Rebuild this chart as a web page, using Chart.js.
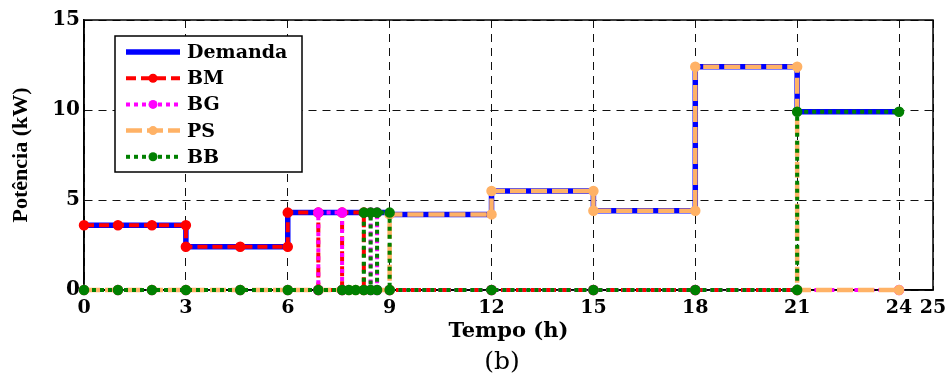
<!DOCTYPE html>
<html>
<head>
<meta charset="utf-8">
<script src="https://cdn.jsdelivr.net/npm/chart.js@4.4.0/dist/chart.umd.min.js"></script>
<style>
  html, body { margin: 0; padding: 0; background: #fff; }
  #wrap { width: 948px; height: 378px; }
</style>
</head>
<body>
<div id="wrap"><canvas id="chart"></canvas></div>
<script>
// axis ticks
const xTicks = [0, 3, 6, 9, 12, 15, 18, 21, 24, 25]
const yTicks = [0, 5, 10, 15]

// Demanda (kW) vs time (h)
const demandaT = [0, 1, 2, 3, 3, 4.6, 6, 6, 9, 9, 12, 12, 15, 15, 18, 18, 21, 21, 24]
const demandaP = [3.6, 3.6, 3.6, 3.6, 2.4, 2.4, 2.4, 4.3, 4.3, 4.2, 4.2, 5.5, 5.5, 4.4, 4.4, 12.4, 12.4, 9.9, 9.9]

// BM
const bmT = [0, 1, 2, 3, 3, 4.6, 6, 6, 6.9, 6.9, 7.6, 7.6, 8.24, 8.24, 9, 12, 15, 18, 21]
const bmP = [3.6, 3.6, 3.6, 3.6, 2.4, 2.4, 2.4, 4.3, 4.3, 0, 0, 4.3, 4.3, 0, 0, 0, 0, 0, 0]

// BG
const bgT = [0, 1, 2, 3, 4.6, 6, 6.9, 6.9, 7.6, 7.6, 8.44, 8.44, 8.63, 8.63, 9, 12, 15, 18, 21, 24]
const bgP = [0, 0, 0, 0, 0, 0, 0, 4.3, 4.3, 0, 0, 4.3, 4.3, 0, 0, 0, 0, 0, 0, 0]

// PS
const psT = [0, 1, 2, 3, 4.6, 6, 7.8, 8.0, 9, 9, 12, 12, 15, 15, 18, 18, 21, 21, 24]
const psP = [0, 0, 0, 0, 0, 0, 0, 0, 0, 4.2, 4.2, 5.5, 5.5, 4.4, 4.4, 12.4, 12.4, 0, 0]

// BB
const bbT = [0, 1, 2, 3, 4.6, 6, 6.9, 7.6, 7.8, 8.0, 8.24, 8.24, 8.44, 8.44, 8.63, 8.63, 9, 9, 12, 15, 18, 21, 21, 24]
const bbP = [0, 0, 0, 0, 0, 0, 0, 0, 0, 0, 0, 4.3, 4.3, 0, 0, 4.3, 4.3, 0, 0, 0, 0, 0, 9.9, 9.9]

function pts(t, p) {
    return t.map((v, i) => ({ x: v, y: p[i] }))
}

function series(label, t, p, color, width, dash, order, style, radius) {
    return {
        label: label,
        data: pts(t, p),
        borderColor: color,
        backgroundColor: color,
        borderWidth: width,
        borderDash: dash,
        pointStyle: style,
        pointRadius: radius,
        pointBorderWidth: 1.5,
        pointBorderColor: color,
        pointBackgroundColor: color,
        tension: 0,
        clip: false,
        order: order
    }
}

const datasets = [
    series("Demanda", demandaT, demandaP, "#0000ff", 5.5, [], 5, "cross", 3),
    series("BM", bmT, bmP, "#ff0000", 4, [10, 5], 4, "circle", 4.5),
    series("BG", bgT, bgP, "#ff00ff", 4, [4, 4], 3, "circle", 4.5),
    series("PS", psT, psP, "#ffb266", 4.5, [16, 5], 2, "circle", 4.5),
    series("BB", bbT, bbP, "#008000", 4, [4, 4], 1, "circle", 4.5)
]

const serif = "'DejaVu Serif', serif"

// frame, legend box and caption
const decorPlugin = {
    id: "decor",
    beforeDatasetsDraw(chart) {
        const { ctx, chartArea: a } = chart
        ctx.save()
        ctx.strokeStyle = "#000"
        ctx.lineWidth = 1.5
        ctx.setLineDash([])
        ctx.strokeRect(a.left, a.top, a.right - a.left, a.bottom - a.top)
        ctx.restore()
    },
    afterDraw(chart) {
        const ctx = chart.ctx
        ctx.save()
        // legend
        ctx.fillStyle = "#fff"
        ctx.fillRect(115, 36, 187, 136)
        ctx.strokeStyle = "#000"
        ctx.lineWidth = 1.5
        ctx.setLineDash([])
        ctx.strokeRect(115, 36, 187, 136)
        chart.data.datasets.forEach((ds, i) => {
            const y = 52 + i * 26.2
            ctx.strokeStyle = ds.borderColor
            ctx.lineWidth = ds.borderWidth
            ctx.setLineDash(ds.borderDash)
            ctx.beginPath()
            ctx.moveTo(126, y)
            ctx.lineTo(180, y)
            ctx.stroke()
            ctx.setLineDash([])
            if (ds.pointStyle === "circle") {
                ctx.fillStyle = ds.borderColor
                ctx.beginPath()
                ctx.arc(153, y, 4.5, 0, Math.PI * 2)
                ctx.fill()
            }
            ctx.fillStyle = "#000"
            ctx.font = "bold 19px " + serif
            ctx.textBaseline = "middle"
            ctx.textAlign = "left"
            ctx.fillText(ds.label, 187, y + 1)
        })
        // caption
        ctx.font = "25px " + serif
        ctx.textAlign = "center"
        ctx.textBaseline = "middle"
        ctx.fillStyle = "#000"
        ctx.fillText("(b)", 502, 362)
        ctx.restore()
    }
}

new Chart(document.getElementById("chart"), {
    type: "line",
    data: { datasets: datasets },
    options: {
        responsive: true,
        maintainAspectRatio: false,
        animation: false,
        layout: { padding: { top: 20, right: 15, left: 0, bottom: 0 } },
        plugins: {
            legend: { display: false },
            tooltip: { enabled: false }
        },
        scales: {
            x: {
                type: "linear",
                min: 0,
                max: 25,
                afterBuildTicks: (scale) => {
                    scale.ticks = xTicks.map(v => ({ value: v }))
                },
                afterFit: (scale) => {
                    scale.height = 88
                    scale.paddingLeft = 0
                    scale.paddingRight = 0
                },
                grid: { color: "#111", lineWidth: 1, drawTicks: false },
                border: { display: true, color: "#000", width: 1.5, dash: [8, 6] },
                ticks: {
                    autoSkip: false,
                    maxRotation: 0,
                    padding: 7,
                    color: "#000",
                    font: { family: serif, size: 19, weight: "bold" }
                },
                title: {
                    display: true,
                    text: "Tempo (h)",
                    color: "#000",
                    font: { family: serif, size: 21, weight: "bold" },
                    padding: { top: 0, bottom: 34 }
                }
            },
            y: {
                min: 0,
                max: 15,
                afterBuildTicks: (scale) => {
                    scale.ticks = yTicks.map(v => ({ value: v }))
                },
                afterFit: (scale) => {
                    scale.width = 84
                    scale.paddingTop = 0
                    scale.paddingBottom = 0
                },
                grid: { color: "#111", lineWidth: 1, drawTicks: false },
                border: { display: true, color: "#000", width: 1.5, dash: [8, 6] },
                ticks: {
                    padding: 4,
                    color: "#000",
                    font: { family: serif, size: 20, weight: "bold" }
                },
                title: {
                    display: true,
                    text: "Potência (kW)",
                    color: "#000",
                    font: { family: "'Liberation Serif', serif", size: 22, weight: "bold" },
                    padding: { top: 8, bottom: 0 }
                }
            }
        }
    },
    plugins: [decorPlugin]
})
</script>
</body>
</html>
